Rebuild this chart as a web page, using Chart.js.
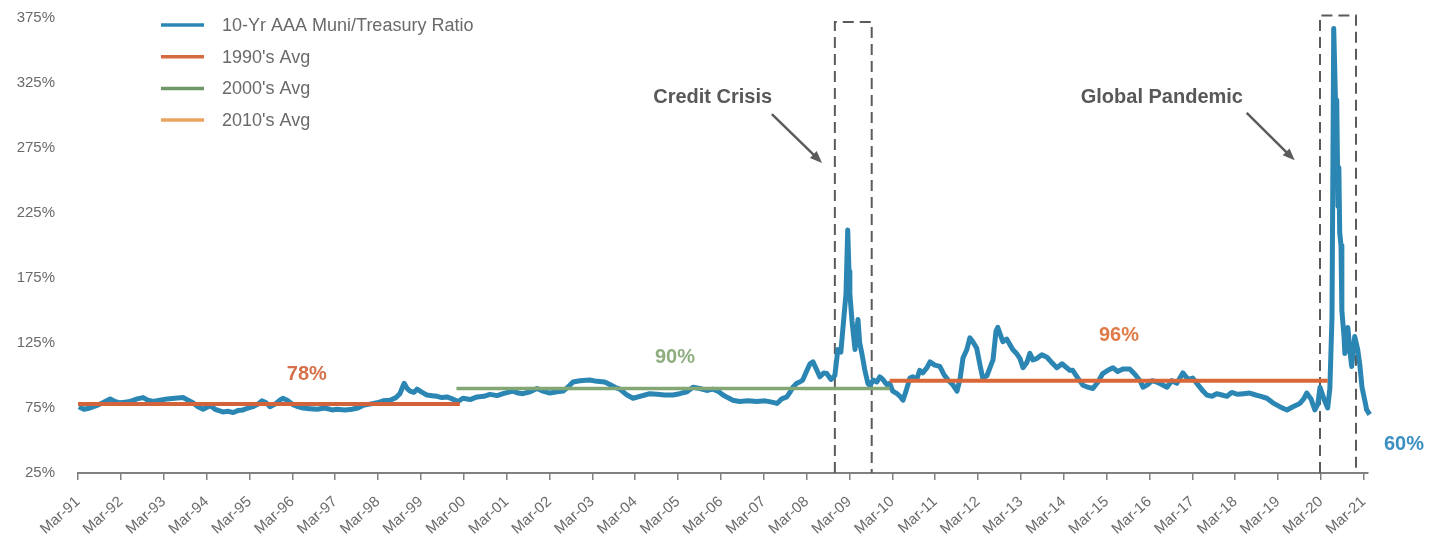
<!DOCTYPE html>
<html>
<head>
<meta charset="utf-8">
<script src="https://cdn.jsdelivr.net/npm/chart.js@4.4.1/dist/chart.umd.min.js"></script>
<style>
  html, body { margin: 0; padding: 0; background: #fff; }
  #wrap { width: 1439px; height: 540px; }
</style>
</head>
<body>
<div id="wrap"><canvas id="ratioChart"></canvas></div>
<script>
// --- data (decimal years, ratio in %) ---
const ratioDates = [
  1991.19, 1991.31, 1991.45, 1991.61, 1991.75, 1991.92, 1992.03, 1992.15, 1992.27, 1992.38,
  1992.55, 1992.69, 1992.80, 1992.92, 1993.08, 1993.25, 1993.43, 1993.62, 1993.74, 1993.85,
  1993.97, 1994.09, 1994.18, 1994.25, 1994.37, 1994.55, 1994.67, 1994.79, 1994.90, 1995.02,
  1995.14, 1995.25, 1995.37, 1995.46, 1995.56, 1995.65, 1995.77, 1995.88, 1995.95, 1996.05,
  1996.19, 1996.30, 1996.42, 1996.58, 1996.75, 1996.93, 1997.10, 1997.21, 1997.40, 1997.56,
  1997.70, 1997.82, 1997.98, 1998.15, 1998.29, 1998.45, 1998.59, 1998.68, 1998.78, 1998.85,
  1998.92, 1999.01, 1999.08, 1999.20, 1999.31, 1999.43, 1999.55, 1999.66, 1999.78, 1999.90,
  2000.04, 2000.15, 2000.32, 2000.48, 2000.64, 2000.78, 2000.95, 2001.09, 2001.20, 2001.32,
  2001.44, 2001.55, 2001.72, 2001.88, 2002.02, 2002.18, 2002.35, 2002.49, 2002.60, 2002.72,
  2002.88, 2003.11, 2003.28, 2003.46, 2003.58, 2003.70, 2003.81, 2003.98, 2004.12, 2004.28,
  2004.40, 2004.51, 2004.68, 2004.86, 2005.05, 2005.21, 2005.38, 2005.52, 2005.68, 2005.84,
  2005.98, 2006.10, 2006.22, 2006.33, 2006.45, 2006.61, 2006.80, 2007.01, 2007.20, 2007.36,
  2007.48, 2007.59, 2007.71, 2007.78, 2007.85, 2007.94, 2008.01, 2008.08, 2008.18, 2008.25,
  2008.32, 2008.41, 2008.48, 2008.57, 2008.64, 2008.74, 2008.83, 2008.90, 2008.97, 2009.02,
  2009.09, 2009.13, 2009.16, 2009.18, 2009.23, 2009.30, 2009.37, 2009.41, 2009.46, 2009.53,
  2009.60, 2009.65, 2009.72, 2009.81, 2009.88, 2009.95, 2010.04, 2010.11, 2010.18, 2010.28,
  2010.35, 2010.42, 2010.49, 2010.58, 2010.65, 2010.74, 2010.81, 2010.88, 2010.98, 2011.05,
  2011.16, 2011.28, 2011.37, 2011.47, 2011.58, 2011.68, 2011.75, 2011.82, 2011.91, 2011.98,
  2012.05, 2012.14, 2012.21, 2012.28, 2012.38, 2012.45, 2012.52, 2012.59, 2012.63, 2012.75,
  2012.84, 2012.91, 2012.98, 2013.08, 2013.15, 2013.22, 2013.31, 2013.38, 2013.45, 2013.54,
  2013.66, 2013.78, 2013.89, 2014.01, 2014.13, 2014.24, 2014.31, 2014.38, 2014.50, 2014.62,
  2014.73, 2014.85, 2014.97, 2015.08, 2015.20, 2015.32, 2015.43, 2015.55, 2015.71, 2015.83,
  2015.95, 2016.02, 2016.13, 2016.23, 2016.34, 2016.46, 2016.58, 2016.69, 2016.81, 2016.95,
  2017.07, 2017.18, 2017.30, 2017.42, 2017.51, 2017.63, 2017.74, 2017.86, 2017.98, 2018.09,
  2018.23, 2018.37, 2018.51, 2018.65, 2018.77, 2018.91, 2019.05, 2019.21, 2019.38, 2019.52,
  2019.68, 2019.77, 2019.84, 2019.94, 2020.03, 2020.10, 2020.15, 2020.24, 2020.33, 2020.38,
  2020.43, 2020.47, 2020.52, 2020.54, 2020.57, 2020.59, 2020.61, 2020.64, 2020.66, 2020.71,
  2020.73, 2020.78, 2020.80, 2020.85, 2020.89, 2020.96, 2021.03, 2021.08, 2021.13, 2021.20,
  2021.24, 2021.31, 2021.36, 2021.43, 2021.48, 2021.55, 2021.59
];
const ratioValues = [
  76, 74, 75, 77, 79, 82, 80, 79, 79.5, 80,
  82, 83, 81, 80, 81, 82, 82.5, 83, 81, 79,
  76, 74, 75.5, 77, 74, 72, 72.5, 71.5, 73, 73.5,
  75, 76, 78, 80.5, 79, 76, 78, 81, 82.5, 81,
  77.5, 76, 75, 74.5, 74, 75, 73.5, 74, 73.5, 74,
  75, 77, 78, 79, 80.5, 81, 83, 86, 94, 90,
  88, 87, 89.5, 87, 85, 84.5, 84, 83, 83.5, 82,
  80, 82.5, 81.5, 83.5, 84, 85.5, 84.5, 86, 87, 88,
  86.5, 86, 87.5, 90, 88, 86.5, 87.5, 88, 91, 95,
  96, 96.5, 95.5, 95, 93, 91, 89.5, 85, 82.5, 84,
  85, 86, 85.5, 85, 85, 86, 87.5, 91, 90, 88.5,
  89.5, 88, 85, 83, 81, 80, 80.5, 80, 80.5, 79.5,
  78.5, 82, 83.5, 87, 91, 94, 95, 96.5, 104, 109,
  110.5, 104, 99, 102, 101.5, 97, 100, 120, 118, 137,
  163, 212, 180, 163, 142, 120, 143, 125, 117, 104,
  94, 92, 96.5, 95, 99, 97, 93, 94, 88, 86,
  84, 81, 88, 98, 99, 97, 104, 102, 106, 110.5,
  108, 107, 101, 96.5, 93, 88, 97, 113.5, 120, 129,
  126, 121, 109, 98, 100, 106, 112, 134, 137, 126,
  128, 124, 120, 116.5, 113, 106, 110, 117, 112, 113,
  116, 114, 110, 106, 109, 106, 104, 104, 98, 92.5,
  91, 90, 95, 101.5, 104, 106, 103, 105, 105, 101,
  96, 91, 93, 96, 95, 93, 91, 96, 94, 102,
  97, 98, 93, 88, 85, 84, 86, 85, 84, 87,
  85.5, 86, 86.5, 85, 84, 82.5, 79, 76, 73.5, 76,
  78.5, 82, 86.5, 82, 73.5, 78, 91, 82, 75, 90,
  145, 367, 300, 312, 230, 260, 210, 200, 150, 130,
  117, 128, 137, 118, 107, 130, 120, 108, 91, 80,
  73.5, 70, 63, 81, 63, 56, 60
];

// decade averages
const avgLabels = ["1990's Avg", "2000's Avg", "2010's Avg"];
const avgValues = [78, 90, 96];
const avgStarts = [1991.17, 2000.0, 2010.11];
const avgEnds = [2000.08, 2010.11, 2020.33];

const tickLabels = [
  'Mar-91', 'Mar-92', 'Mar-93', 'Mar-94', 'Mar-95', 'Mar-96', 'Mar-97', 'Mar-98', 'Mar-99', 'Mar-00',
  'Mar-01', 'Mar-02', 'Mar-03', 'Mar-04', 'Mar-05', 'Mar-06', 'Mar-07', 'Mar-08', 'Mar-09', 'Mar-10',
  'Mar-11', 'Mar-12', 'Mar-13', 'Mar-14', 'Mar-15', 'Mar-16', 'Mar-17', 'Mar-18', 'Mar-19', 'Mar-20',
  'Mar-21'
];
const firstTick = 1991.17;

// colours
const blue = '#2b86b4';
const lineColors = ['#d3633a', '#83a774', '#d9673a'];
const legendColors = [blue, '#d66b41', '#6f9868', '#eba362'];

const tickFont = { family: '"Liberation Sans", Arial, sans-serif', size: 15 };

// --- annotations (positions in data units) ---
const crisisBoxes = [
  { x0: 2008.83, x1: 2009.69, top: 372 },
  { x0: 2020.15, x1: 2020.99, top: 377 }
];
const calloutTexts = [
  { text: 'Credit Crisis', x: 2005.98, y: 314, color: '#585858' },
  { text: 'Global Pandemic', x: 2016.46, y: 313.5, color: '#585858' },
  { text: '78%', x: 1996.51, y: 100.4, color: '#d6704a' },
  { text: '90%', x: 2005.10, y: 114.2, color: '#8fae80' },
  { text: '96%', x: 2015.46, y: 130.4, color: '#e07b47' },
  { text: '60%', x: 2022.11, y: 47.3, color: '#3b90c1' }
];
const arrows = [
  { x0: 2007.36, y0: 301, x1: 2008.53, y1: 263.5 },
  { x0: 2018.44, y0: 302, x1: 2019.56, y1: 265.5 }
];

const annotationPlugin = {
  id: 'annotations',
  beforeDatasetsDraw(chart) {
    const { ctx, scales: { x, y } } = chart;
    ctx.save();
    ctx.strokeStyle = '#5b5b5b';
    ctx.lineWidth = 2;
    ctx.setLineDash([11, 6]);
    crisisBoxes.forEach(b => {
      const l = x.getPixelForValue(b.x0), r = x.getPixelForValue(b.x1);
      const t = y.getPixelForValue(b.top), btm = y.getPixelForValue(25);
      ctx.beginPath();
      ctx.moveTo(l, btm); ctx.lineTo(l, t); ctx.lineTo(r, t); ctx.lineTo(r, btm);
      ctx.stroke();
    });
    ctx.restore();
  },
  afterDraw(chart) {
    const { ctx, scales: { x, y } } = chart;
    ctx.save();
    ctx.font = 'bold 20px "Liberation Sans", Arial, sans-serif';
    ctx.textAlign = 'center';
    ctx.textBaseline = 'middle';
    calloutTexts.forEach(c => {
      ctx.fillStyle = c.color;
      ctx.fillText(c.text, x.getPixelForValue(c.x), y.getPixelForValue(c.y));
    });

    // arrows
    ctx.strokeStyle = '#5b5b5b';
    ctx.fillStyle = '#5b5b5b';
    ctx.lineWidth = 2.5;
    arrows.forEach(a => {
      const px0 = x.getPixelForValue(a.x0), py0 = y.getPixelForValue(a.y0);
      const px1 = x.getPixelForValue(a.x1), py1 = y.getPixelForValue(a.y1);
      const ang = Math.atan2(py1 - py0, px1 - px0);
      const head = 13;
      ctx.beginPath();
      ctx.moveTo(px0, py0);
      ctx.lineTo(px1 - Math.cos(ang) * head * 0.8, py1 - Math.sin(ang) * head * 0.8);
      ctx.stroke();
      ctx.beginPath();
      ctx.moveTo(px1, py1);
      ctx.lineTo(px1 - head * Math.cos(ang - 0.38), py1 - head * Math.sin(ang - 0.38));
      ctx.lineTo(px1 - head * Math.cos(ang + 0.38), py1 - head * Math.sin(ang + 0.38));
      ctx.closePath();
      ctx.fill();
    });

    // legend, top left inside the plot
    const names = [chart.data.datasets[0].label].concat(avgLabels);
    ctx.font = '18px "Liberation Sans", Arial, sans-serif';
    ctx.textAlign = 'left';
    names.forEach((name, i) => {
      const ly = 25 + i * 31.7;
      ctx.strokeStyle = legendColors[i];
      ctx.lineWidth = 3.5;
      ctx.beginPath();
      ctx.moveTo(161, ly); ctx.lineTo(204, ly);
      ctx.stroke();
      ctx.fillStyle = '#6a6a6a';
      ctx.fillText(name, 222, ly + 1);
    });
    ctx.restore();
  }
};

const avgDatasets = avgLabels.map((label, i) => ({
  label,
  data: [{ x: avgStarts[i], y: avgValues[i] }, { x: avgEnds[i], y: avgValues[i] }],
  borderColor: lineColors[i],
  borderWidth: i === 1 ? 3.5 : 4,
  pointRadius: 0,
  order: 0
}));

new Chart(document.getElementById('ratioChart'), {
  type: 'line',
  data: {
    datasets: [{
      label: '10-Yr AAA Muni/Treasury Ratio',
      data: ratioDates.map((d, i) => ({ x: d, y: ratioValues[i] })),
      borderColor: blue,
      borderWidth: 5,
      borderJoinStyle: 'round',
      pointRadius: 0,
      tension: 0,
      clip: false,
      order: 1
    }].concat(avgDatasets)
  },
  options: {
    responsive: true,
    maintainAspectRatio: false,
    animation: false,
    layout: { padding: { top: 18, right: 71, left: 0, bottom: 0 } },
    plugins: { legend: { display: false }, tooltip: { enabled: false } },
    scales: {
      x: {
        type: 'linear',
        min: firstTick,
        max: 2021.27,
        afterBuildTicks: s => { s.ticks = tickLabels.map((_, i) => ({ value: firstTick + i })); },
        afterFit: s => { s.height = 67; s.paddingTop = 0; s.paddingBottom = 0; },
        ticks: {
          callback: (v, i) => tickLabels[i],
          autoSkip: false,
          minRotation: 42,
          maxRotation: 42,
          padding: 13,
          color: '#6a6a6a',
          font: tickFont
        },
        grid: { drawOnChartArea: false, drawTicks: true, tickLength: 7, color: '#808080', lineWidth: 1.5 },
        border: { display: true, color: '#808080', width: 2 }
      },
      y: {
        min: 25,
        max: 375,
        afterFit: s => { s.width = 78; s.paddingTop = 0; s.paddingBottom = 0; },
        ticks: {
          stepSize: 50,
          callback: v => v + '%',
          padding: 23,
          color: '#6a6a6a',
          font: tickFont
        },
        grid: { display: false, drawTicks: false },
        border: { display: false }
      }
    }
  },
  plugins: [annotationPlugin]
});
</script>
</body>
</html>
